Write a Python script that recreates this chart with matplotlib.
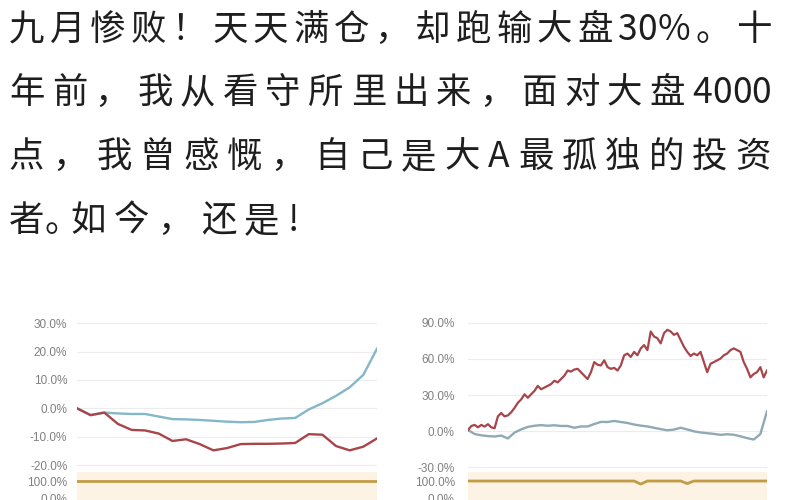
import matplotlib
matplotlib.use('Agg')
import matplotlib.pyplot as plt
import numpy as np
from matplotlib.ticker import FixedLocator
from matplotlib.font_manager import FontProperties

plt.rcParams['font.family'] = ['Noto Sans CJK SC', 'DejaVu Sans']

# 正文四行（前三行两端对齐）
text_lines = ['九月惨败！天天满仓，却跑输大盘30%。十',
              '年前，我从看守所里出来，面对大盘4000',
              '点，我曾感慨，自己是大A最孤独的投资',
              '者。如今，还是!']

# 左图：九月（按交易日）
left_blue = [0.0, -2.4, -1.5, -1.8, -2.0, -2.0, -2.9, -3.8, -3.9, -4.1, -4.4, -4.7,
             -4.9, -4.8, -4.1, -3.6, -3.4, -0.4, 1.8, 4.4, 7.4, 11.8, 21.0]
left_red = [0.0, -2.4, -1.5, -5.5, -7.6, -7.8, -8.9, -11.5, -10.9, -12.6, -14.8, -14.0,
            -12.6, -12.5, -12.5, -12.4, -12.2, -9.1, -9.3, -13.3, -14.8, -13.5, -10.6]
left_pos = [100.0] * 23
left_ticks = [30, 20, 10, 0, -10, -20]

# 右图：长周期
right_red = [0.8, 4.2, 5.1, 3.1, 5.1, 3.7, 5.7, 3.1, 2.3, 12.2, 15.0, 12.2, 13.0, 15.6,
             19.2, 23.5, 26.3, 30.6, 27.7, 30.6, 33.4, 37.6, 34.8, 36.2, 37.6, 39.1,
             41.9, 40.5, 43.3, 46.1, 50.4, 49.5, 51.2, 51.8, 49.0, 46.1, 43.3, 49.0,
             57.4, 55.2, 54.6, 58.9, 53.2, 51.8, 52.6, 50.4, 54.6, 63.1, 64.5, 61.7,
             65.9, 63.1, 68.8, 71.6, 67.4, 82.9, 78.7, 77.3, 73.0, 81.5, 84.3, 82.9,
             80.1, 81.5, 75.8, 70.2, 65.9, 62.5, 64.5, 63.1, 65.9, 57.4, 49.0, 56.0,
             57.4, 58.9, 60.3, 63.1, 64.5, 67.4, 68.8, 67.4, 65.9, 57.4, 51.8, 44.7,
             47.5, 49.0, 53.2, 44.7, 50.4]
right_blue = [0.8, -2.5, -3.6, -4.2, -4.6, -3.8, -6.2, -1.3, 1.4, 3.4, 4.4, 4.9, 4.4,
              4.8, 4.2, 4.2, 2.7, 3.8, 3.8, 5.8, 7.6, 7.5, 8.4, 7.5, 6.7, 5.4, 4.5,
              3.8, 2.7, 1.6, 0.6, 1.2, 2.7, 1.3, -0.3, -1.2, -1.8, -2.4, -3.2, -2.7,
              -3.1, -4.4, -5.9, -7.1, -2.5, 16.4]
right_pos = [100.0] * 26 + [82.0] + [100.0] * 6 + [85.0] + [100.0] * 12
right_ticks = [90, 60, 30, 0, -30]

RED = '#a8454b'
BLUE_L = '#84b7c7'
BLUE_R = '#8faab4'
GOLD = '#c29c45'
BAND = '#fdf3e4'
GRID = '#ececec'
LABEL = '#808080'

fig = plt.figure(figsize=(8, 5), dpi=100)
W, H = 800.0, 500.0
renderer = fig.canvas.get_renderer()
prop = FontProperties(family=['Noto Sans CJK SC', 'DejaVu Sans'], size=25.5)


def tw(s):
    # 文字墨迹宽度（像素）
    return renderer.get_text_width_height_descent(s, prop, ismath=False)[0]


def char_metrics(c):
    adv = tw('H' + c + 'H') - tw('HH')
    off = tw('H' + c) - tw(c) - tw('HH') + tw('H')
    return adv, off


def spaced(a, b):
    # 半角字符之间不加字距
    return not (a.isascii() and b.isascii())


x_start, x_end = 9.0, 771.0
baselines = [40, 103, 167, 231]
last = len(text_lines) - 1
for i, line in enumerate(text_lines):
    mets = [list(char_metrics(c)) for c in line]
    flags = [spaced(line[k], line[k + 1]) for k in range(len(line) - 1)]
    extra = [0.0] * len(line)
    if i == last:
        # 末行不对齐，句号挤压
        for k, c in enumerate(line):
            if c == '。':
                mets[k][0] *= 0.66
                flags[k - 1] = False
                flags[k] = False
                extra[k] = 3.0
        gap = 8.0
    else:
        natural = sum(m[0] for m in mets)
        gap = (x_end - x_start - natural) / sum(flags)
    x = x_start
    for k, c in enumerate(line):
        adv, off = mets[k]
        fig.text((x + off) / W, 1 - baselines[i] / H, c, fontproperties=prop,
                 color='#1e1e1e', ha='left', va='baseline')
        x += adv + extra[k] + (gap if k < len(flags) and flags[k] else 0)


def px_axes(x0, x1, top, bottom):
    return fig.add_axes([x0 / W, 1 - bottom / H, (x1 - x0) / W, (bottom - top) / H])


def style(ax, ticks, pad):
    for s in ax.spines.values():
        s.set_visible(False)
    ax.set_xticks([])
    ax.yaxis.set_major_locator(FixedLocator(ticks))
    ax.set_yticklabels(['%.1f%%' % t for t in ticks])
    ax.tick_params(axis='y', length=0, pad=pad, labelsize=8.5, labelcolor=LABEL)
    for lab in ax.get_yticklabels():
        lab.set_family(['Liberation Sans', 'DejaVu Sans'])


# 左图
ax1 = px_axes(77, 377, 316, 470.8)
x1 = np.arange(len(left_blue))
ax1.set_xlim(0, len(left_blue) - 1)
ax1.set_ylim(-22, 32.5)
style(ax1, left_ticks, 7)
ax1.grid(axis='y', color=GRID, linewidth=0.8)
ax1.plot(x1, left_blue, color=BLUE_L, linewidth=1.7)
ax1.plot(x1, left_red, color=RED, linewidth=1.7)

ax1b = px_axes(77, 377, 472, 530)
ax1b.set_facecolor(BAND)
ax1b.set_xlim(0, len(left_pos) - 1)
ax1b.set_ylim(-188, 153)
style(ax1b, [100, 0], 7)
ax1b.plot(x1, left_pos, color=GOLD, linewidth=2.0)

# 右图
ax2 = px_axes(468, 767, 316, 471)
xr = np.linspace(0, 90, len(right_red))
xb = np.linspace(0, 90, len(right_blue))
ax2.set_xlim(0, 90)
ax2.set_ylim(-33.3, 95.8)
style(ax2, right_ticks, 9.5)
ax2.grid(axis='y', color=GRID, linewidth=0.8)
ax2.plot(xb, right_blue, color=BLUE_R, linewidth=1.7)
ax2.plot(xr, right_red, color=RED, linewidth=1.6)

ax2b = px_axes(468, 767, 472, 530)
ax2b.set_facecolor(BAND)
ax2b.set_xlim(0, 90)
ax2b.set_ylim(-188, 153)
style(ax2b, [100, 0], 9.5)
ax2b.plot(np.linspace(0, 90, len(right_pos)), right_pos, color=GOLD, linewidth=2.0)

fig.savefig('out.png', dpi=100, facecolor='white')
